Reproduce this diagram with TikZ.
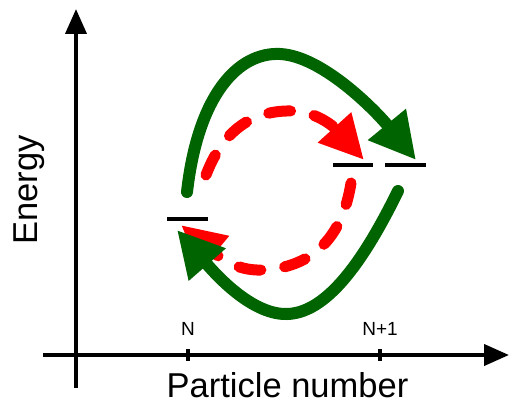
\documentclass[tikz,border=0pt]{standalone}
\usepackage{fontspec}
\setmainfont{Liberation Sans}
\usetikzlibrary{arrows.meta}
\definecolor{dgreen}{RGB}{0,100,0}
\definecolor{dred}{RGB}{255,0,0}
\begin{document}
\begin{tikzpicture}[x=1pt,y=-1pt,
  axis/.style={line width=4pt,-{Triangle[length=25pt,width=21pt]}},
  level/.style={line width=4.5pt},
  tick/.style={line width=4pt},
  greenarr/.style={draw=dgreen,line width=12pt,line cap=round,-{Triangle[length=46pt,width=46pt]},color=dgreen},
  redarr/.style={draw=dred,line width=11pt,line cap=round,dash pattern=on 22pt off 24pt,-{Triangle[length=44pt,width=42pt]},color=dred},
  lbl/.style={font=\fontsize{19}{22}\selectfont,inner sep=0pt,anchor=base},
  biglbl/.style={font=\fontsize{34.5}{40}\selectfont,inner sep=0pt}]
\useasboundingbox (0,0) rectangle (510,403);
% axes
\coordinate (ybot) at (76,388);
\coordinate (ytop) at (76,9);
\coordinate (xl) at (43,355);
\coordinate (xr) at (509,355);
\draw[axis] (ybot) -- (ytop);
\draw[axis] (xl) -- (xr);
% ticks
\coordinate (tN1) at (188,349); \coordinate (tN2) at (188,361);
\coordinate (tM1) at (380,349); \coordinate (tM2) at (380,361);
\draw[tick] (tN1) -- (tN2);
\draw[tick] (tM1) -- (tM2);
\node[lbl] (lN) at (188,335) {N};
\node[lbl] (lM) at (380,335) {N+1};
\node[biglbl,anchor=base] (px) at (287.5,397) {Particle number};
\node[biglbl,rotate=90,anchor=base] (en) at (37,190) {Energy};
% levels
\coordinate (L1a) at (167,219); \coordinate (L1b) at (208,219);
\coordinate (L2a) at (333,165); \coordinate (L2b) at (373,165);
\coordinate (L3a) at (385,165); \coordinate (L3b) at (426,165);
\draw[level] (L1a) -- (L1b);
\draw[level] (L2a) -- (L2b);
\draw[level] (L3a) -- (L3b);
% red dashed arrows
\coordinate (r1s) at (206,175);
\coordinate (r1e) at (364,160);
\coordinate (r2s) at (351,183);
\coordinate (r2e) at (181,225);
\draw[redarr] (r1s) .. controls (225,125) and (258,110) .. (293,111) .. controls (318,112) and (335,128) .. (r1e);
\draw[redarr] (r2s) .. controls (342,240) and (310,268) .. (262,270) .. controls (235,271) and (218,256) .. (r2e);
% green arrows
\coordinate (g1s) at (187,192);
\coordinate (g1e) at (416,160);
\coordinate (g2s) at (398,191);
\coordinate (g2e) at (177,230);
\draw[greenarr] (g1s) .. controls (198,95) and (238,52) .. (280,54) .. controls (322,56) and (375,110) .. (g1e);
\draw[greenarr] (g2s) .. controls (368,252) and (330,313) .. (287,314) .. controls (250,315) and (212,270) .. (g2e);
\end{tikzpicture}
\end{document}
